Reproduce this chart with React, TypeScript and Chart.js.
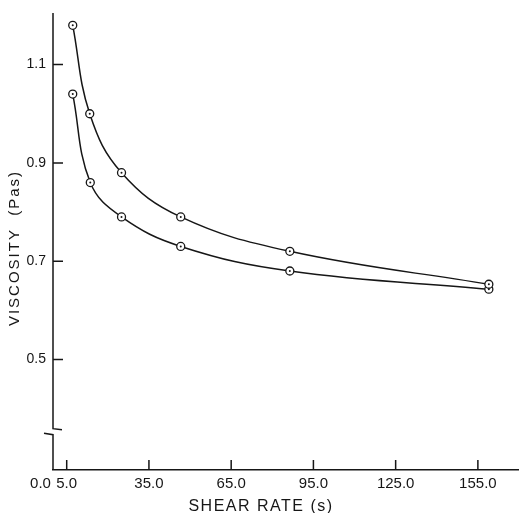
import React, { useEffect, useRef } from "react";
import { Chart, registerables } from "chart.js";

Chart.register(...registerables);

const shearRateUpper = [7.2, 13.4, 25.0, 46.6, 86.4, 159.0];
const viscosityUpper = [1.18, 1.0, 0.88, 0.79, 0.72, 0.653];
const shearRateLower = [7.2, 13.6, 25.0, 46.6, 86.4, 159.0];
const viscosityLower = [1.04, 0.86, 0.79, 0.73, 0.68, 0.643];
const xTickValues = [0, 5, 35, 65, 95, 125, 155];
const yTickValues = [0.5, 0.7, 0.9, 1.1];
const xTitle = "SHEAR RATE (s)";
const yTitle = "VISCOSITY  (Pas)";

const FONT = "'Liberation Sans', Arial, sans-serif";
const INK = "#161616";

const decorPlugin = {
  id: "decor",
  afterDatasetsDraw(chart: any) {
    const ctx = chart.ctx;
    ctx.save();
    ctx.fillStyle = INK;
    chart.getSortedVisibleDatasetMetas().forEach((meta: any) => {
      meta.data.forEach((pt: any) => {
        ctx.beginPath();
        ctx.arc(pt.x, pt.y, 1, 0, Math.PI * 2);
        ctx.fill();
      });
    });
    ctx.restore();
  },
  afterDraw(chart: any) {
    const { ctx, chartArea, scales } = chart;
    const x = scales.x;
    const y = scales.y;
    const left = chartArea.left;
    const bottom = chartArea.bottom;
    ctx.save();
    ctx.strokeStyle = INK;
    ctx.lineWidth = 1.5;
    ctx.lineCap = "butt";
    const bp = y.getPixelForValue(0.353);
    ctx.beginPath();
    ctx.moveTo(left, chartArea.top);
    ctx.lineTo(left, bp - 3);
    ctx.lineTo(left + 9, bp - 2);
    ctx.moveTo(left - 9, bp + 1.5);
    ctx.lineTo(left, bp + 3);
    ctx.lineTo(left, bottom);
    ctx.stroke();

    ctx.beginPath();
    y.ticks.forEach((t: any) => {
      const py = y.getPixelForValue(t.value);
      ctx.moveTo(left, py);
      ctx.lineTo(left + 10, py);
    });
    x.ticks.forEach((t: any) => {
      if (t.value === 0) return;
      const px = x.getPixelForValue(t.value);
      ctx.moveTo(px, bottom);
      ctx.lineTo(px, bottom - 10);
    });
    ctx.stroke();

    ctx.fillStyle = INK;
    ctx.textAlign = "center";
    ctx.textBaseline = "middle";
    ctx.font = `16px ${FONT}`;
    (ctx as any).letterSpacing = "1.5px";
    ctx.fillText(xTitle, left + 208, bottom + 37);

    ctx.translate(left - 38, chartArea.top + 235);
    ctx.rotate(-Math.PI / 2);
    ctx.font = `15px ${FONT}`;
    (ctx as any).letterSpacing = "2px";
    ctx.fillText(yTitle, 0, 0);
    ctx.restore();
  },
};

export default function App() {
  const ref = useRef<HTMLCanvasElement | null>(null);

  useEffect(() => {
    if (!ref.current) return;
    const mk = (xs: number[], ys: number[]) => xs.map((v, i) => ({ x: v, y: ys[i] }));
    const common = {
      borderColor: INK,
      borderWidth: 1.5,
      pointRadius: 4,
      pointBorderWidth: 1.3,
      pointBackgroundColor: "#ffffff",
      pointBorderColor: INK,
      tension: 0.4,
      fill: false,
    };
    const chart = new Chart(ref.current, {
      type: "line",
      data: {
        datasets: [
          { label: "upper", data: mk(shearRateUpper, viscosityUpper), ...common },
          { label: "lower", data: mk(shearRateLower, viscosityLower), ...common },
        ],
      },
      plugins: [decorPlugin],
      options: {
        animation: false,
        responsive: true,
        maintainAspectRatio: false,
        layout: { autoPadding: false, padding: { top: 13, right: 0, left: 0, bottom: 0 } },
        plugins: { legend: { display: false }, tooltip: { enabled: false } },
        scales: {
          x: {
            type: "linear",
            min: 0,
            max: 170,
            afterBuildTicks: (s: any) => {
              s.ticks = xTickValues.map((v) => ({ value: v }));
            },
            afterFit: (s: any) => {
              s.height = 43;
              s.paddingLeft = 0;
              s.paddingRight = 0;
            },
            grid: { display: false, drawTicks: false },
            border: { display: true, color: INK, width: 1.5 },
            ticks: {
              autoSkip: false,
              maxRotation: 0,
              padding: 5,
              color: INK,
              font: { family: FONT, size: 15 },
              callback: (v: any) => (Number(v) === 0 ? "0.0      " : Number(v).toFixed(1)),
            },
          },
          y: {
            type: "linear",
            min: 0.275,
            max: 1.205,
            afterBuildTicks: (s: any) => {
              s.ticks = yTickValues.map((v) => ({ value: v }));
            },
            afterFit: (s: any) => {
              s.width = 53;
              s.paddingTop = 0;
              s.paddingBottom = 0;
            },
            grid: { display: false, drawTicks: false },
            border: { display: false },
            ticks: {
              padding: 7,
              color: INK,
              font: { family: FONT, size: 14 },
              callback: (v: any) => Number(v).toFixed(1),
            },
          },
        },
      },
    });
    return () => chart.destroy();
  }, []);

  return (
    <div style={{ position: "absolute", left: 0, top: 0, width: 519, height: 513, background: "#fff" }}>
      <canvas ref={ref} />
    </div>
  );
}
